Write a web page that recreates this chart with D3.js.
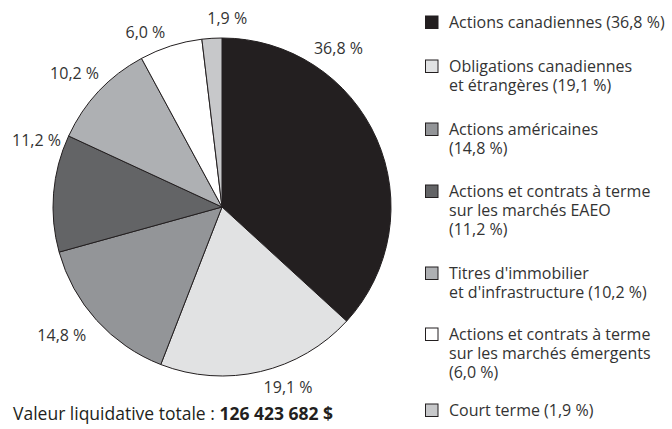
<!DOCTYPE html>
<html>
<head>
<meta charset="utf-8">
<script src="https://cdn.jsdelivr.net/npm/d3@7"></script>
<style>
  body { margin: 0; background: #fff; }
  svg { display: block; font-family: "Open Sans", sans-serif; }
</style>
</head>
<body>
<svg id="chart" width="672" height="429"></svg>
<script>
// slices, clockwise from 12 o'clock
const values = [36.8, 19.1, 14.8, 11.2, 10.2, 6.0, 1.9]
const sliceLabels = ['36,8 %', '19,1 %', '14,8 %', '11,2 %', '10,2 %', '6,0 %', '1,9 %']
const legendLines = [
  ['Actions canadiennes (36,8 %)'],
  ['Obligations canadiennes', 'et étrangères (19,1 %)'],
  ['Actions américaines', '(14,8 %)'],
  ['Actions et contrats à terme', 'sur les marchés EAEO', '(11,2 %)'],
  ['Titres d\'immobilier', 'et d\'infrastructure (10,2 %)'],
  ['Actions et contrats à terme', 'sur les marchés émergents', '(6,0 %)'],
  ['Court terme (1,9 %)']
]
const totalLabel = 'Valeur liquidative totale : '
const totalValue = '126 423 682 $'

const colors = ['#231f20', '#e1e2e3', '#939598', '#636466', '#aeb0b3', '#ffffff', '#c7c8ca']
// label placement: angle tweak (degrees) from the slice middle, and distance from centre
const labelNudge = [-30, -7, 3.5, 15, -1, -6, 5]
const labelDist = [197, 192, 205, 197, 199, 191, 189]
// baseline of the first line of each legend entry
const legendY = [28, 72, 135, 197, 279, 340, 416]

const cx = 222, cy = 207, radius = 169
const ink = '#231f20'

const svg = d3.select('#chart')
const g = svg.append('g').attr('transform', `translate(${cx},${cy})`)

const pie = d3.pie().sort(null).value(d => d)
const arcs = pie(values)
const arc = d3.arc().innerRadius(0).outerRadius(radius)

g.selectAll('path')
  .data(arcs)
  .join('path')
    .attr('d', arc)
    .attr('fill', (d, i) => colors[i])
    .attr('stroke', ink)
    .attr('stroke-width', 1)
    .attr('stroke-linejoin', 'round')

// percent labels outside the pie
g.selectAll('text.pct')
  .data(arcs)
  .join('text')
    .attr('class', 'pct')
    .attr('transform', (d, i) => {
      const a = (d.startAngle + d.endAngle) / 2 + labelNudge[i] * Math.PI / 180
      const r = labelDist[i]
      return `translate(${r * Math.sin(a)},${-r * Math.cos(a)})`
    })
    .attr('text-anchor', 'middle')
    .attr('dy', '0.35em')
    .attr('font-size', 16)
    .attr('fill', '#333')
    .text((d, i) => sliceLabels[i])

// legend
const legX = 425, textX = 449, lineH = 19, box = 12.5
const legend = svg.append('g')
legendLines.forEach((lines, i) => {
  const item = legend.append('g').attr('transform', `translate(0,${legendY[i]})`)
  item.append('rect')
    .attr('x', legX + 0.5)
    .attr('y', -12)
    .attr('width', box)
    .attr('height', box)
    .attr('fill', colors[i])
    .attr('stroke', ink)
    .attr('stroke-width', 1)
  const t = item.append('text')
    .attr('x', textX)
    .attr('font-size', 16)
    .attr('fill', '#333')
  t.selectAll('tspan')
    .data(lines)
    .join('tspan')
      .attr('x', textX)
      .attr('y', (d, j) => j * lineH)
      .text(d => d)
})

// total
const tot = svg.append('text')
  .attr('x', 13)
  .attr('y', 420)
  .attr('font-size', 17.5)
  .attr('fill', '#231f20')
tot.append('tspan').text(totalLabel)
tot.append('tspan').attr('font-weight', 'bold').text(totalValue)
</script>
</body>
</html>
